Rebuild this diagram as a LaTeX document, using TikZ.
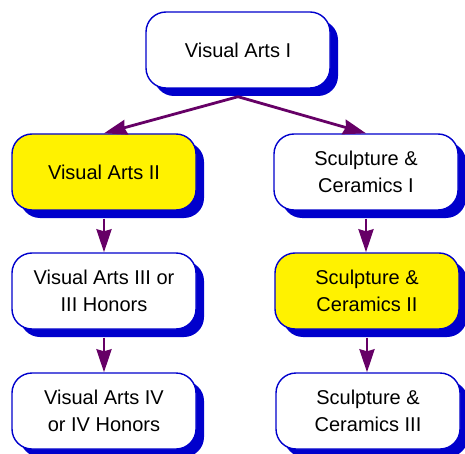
\documentclass[tikz,border=0pt]{standalone}
\usepackage{fontspec}
\setmainfont{Liberation Sans}
\usetikzlibrary{shadows,arrows.meta}
\definecolor{boxblue}{RGB}{0,0,204}
\definecolor{linkpurple}{RGB}{102,0,102}
\begin{document}
\begin{tikzpicture}[x=1pt,y=-1pt,
	course/.style={draw=boxblue,line width=1.4pt,fill=white,rounded corners=20pt,
		minimum width=184pt,minimum height=76pt,align=center,
		font=\fontsize{20}{27}\selectfont,
		drop shadow={shadow xshift=8pt,shadow yshift=-8pt,fill=boxblue,opacity=1}},
	honors/.style={course,fill=yellow},
	link/.style={draw=linkpurple,line width=2.8pt,-{Stealth[length=23pt,width=15pt,inset=2pt]}}]
				\useasboundingbox (0,0) rectangle (465,454);
				% top
				\node [course] (va1) at (238,50) {Visual Arts I};
				% left column
				\node [honors] (va2) at (104,172) {Visual Arts II};
				\node [course] (va3) at (104,291) {Visual Arts III or\\III Honors};
				\node [course] (va4) at (104,411) {Visual Arts IV\\or IV Honors};
				% right column
				\node [course] (sc1) at (366,172) {Sculpture \&\\Ceramics I};
				\node [honors] (sc2) at (367,291) {Sculpture \&\\Ceramics II};
				\node [course] (sc3) at (368,411) {Sculpture \&\\Ceramics III};
				% links
				\draw [link] ([yshift=-8pt]va1.south) -- (va2.north);
				\draw [link] ([yshift=-8pt]va1.south) -- (sc1.north);
				\draw [link] ([yshift=-8pt]va2.south) -- (va3.north);
				\draw [link] ([yshift=-8pt]va3.south) -- (va4.north);
				\draw [link] ([yshift=-8pt]sc1.south) -- (sc1.south |- sc2.north);
				\draw [link] ([yshift=-8pt]sc2.south) -- (sc2.south |- sc3.north);
\end{tikzpicture}
\end{document}
